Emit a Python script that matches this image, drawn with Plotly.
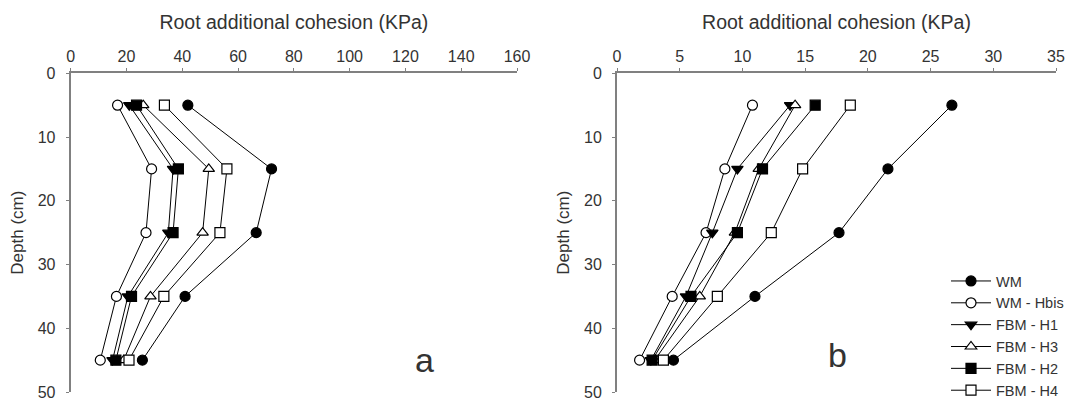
import plotly.graph_objects as go

depth = [5, 15, 25, 35, 45]
series_names = ["WM", "WM - Hbis", "FBM - H1", "FBM - H3", "FBM - H2", "FBM - H4"]
symbols = ["circle", "circle", "triangle-down", "triangle-up", "square", "square"]
fills = ["black", "white", "black", "white", "black", "white"]

# Panel a values (KPa)
a_WM = [42, 72, 66.5, 41, 25.7]
a_Hbis = [16.8, 29, 27, 16.4, 10.6]
a_H1 = [21, 36.7, 35, 20.5, 15]
a_H3 = [26, 49.5, 47.3, 28.6, 19]
a_H2 = [23.6, 38.6, 36.7, 21.8, 16.2]
a_H4 = [33.6, 56, 53.5, 33.4, 20.9]

# Panel b values (KPa)
b_WM = [26.7, 21.6, 17.7, 11.0, 4.5]
b_Hbis = [10.8, 8.6, 7.1, 4.4, 1.8]
b_H1 = [13.8, 9.6, 7.6, 5.5, 2.7]
b_H3 = [14.2, 11.3, 9.4, 6.6, 3.0]
b_H2 = [15.8, 11.6, 9.6, 5.9, 2.8]
b_H4 = [18.6, 14.8, 12.3, 8.0, 3.7]

a_vals = [a_WM, a_Hbis, a_H1, a_H3, a_H2, a_H4]
b_vals = [b_WM, b_Hbis, b_H1, b_H3, b_H2, b_H4]

a_ticks = [0, 20, 40, 60, 80, 100, 120, 140, 160]
b_ticks = [0, 5, 10, 15, 20, 25, 30, 35]
y_ticks = [0, 10, 20, 30, 40, 50]

W, H = 1081, 403
fig = go.Figure()


def add_series(vals_list, xa, ya, legend):
    for name, sym, fill, vals in zip(series_names, symbols, fills, vals_list):
        fig.add_trace(go.Scatter(
            x=vals, y=depth, mode="lines+markers", name=name, showlegend=legend,
            xaxis=xa, yaxis=ya,
            line=dict(color="black", width=1),
            marker=dict(symbol=sym, size=10, color=fill,
                        line=dict(color="black", width=1.2)),
        ))


add_series(a_vals, "x", "y", False)
add_series(b_vals, "x2", "y2", True)

ydom = [1 - 392 / H, 1 - 73.3 / H]
axis_common = dict(showline=True, linecolor="#808080", linewidth=2, ticks="outside",
                   ticklen=3, tickcolor="#808080", showgrid=False, zeroline=False,
                   automargin=False, tickfont=dict(size=16, color="#333"))
xtitle = dict(text="Root additional cohesion (KPa)", font=dict(size=19.5, color="#333"), standoff=13)
ytitle = dict(text="Depth (cm)", font=dict(size=17, color="#333"), standoff=10)

fig.update_layout(
    width=W, height=H,
    margin=dict(l=0, r=0, t=0, b=0, autoexpand=False),
    paper_bgcolor="white", plot_bgcolor="white",
    font=dict(family="Liberation Sans, Arial, sans-serif", color="#333"),
    xaxis=dict(domain=[70.7 / W, 517 / W], range=[0, 160], tickvals=a_ticks, side="top",
               anchor="y", title=xtitle, **axis_common),
    yaxis=dict(domain=ydom, range=[50, 0], tickvals=y_ticks, anchor="x",
               title=ytitle, ticklabelstandoff=7, **axis_common),
    xaxis2=dict(domain=[617 / W, 1056 / W], range=[0, 35], tickvals=b_ticks, side="top",
                anchor="y2", title=xtitle, **axis_common),
    yaxis2=dict(domain=ydom, range=[50, 0], tickvals=y_ticks, anchor="x2",
                title=ytitle, ticklabelstandoff=7, **axis_common),
    legend=dict(x=946 / W, y=-0.01, xanchor="left", yanchor="bottom",
                font=dict(size=14.5, color="#333"), bgcolor="rgba(0,0,0,0)",
                tracegroupgap=0, itemwidth=40),
    annotations=[
        dict(text="a", x=127, y=45, xref="x", yref="y", showarrow=False,
             font=dict(size=34, color="#333")),
        dict(text="b", x=17.6, y=44.2, xref="x2", yref="y2", showarrow=False,
             font=dict(size=34, color="#333")),
    ],
)

fig.write_html("out.html", config={"displayModeBar": False},
               post_script="document.body.style.margin='0';")
